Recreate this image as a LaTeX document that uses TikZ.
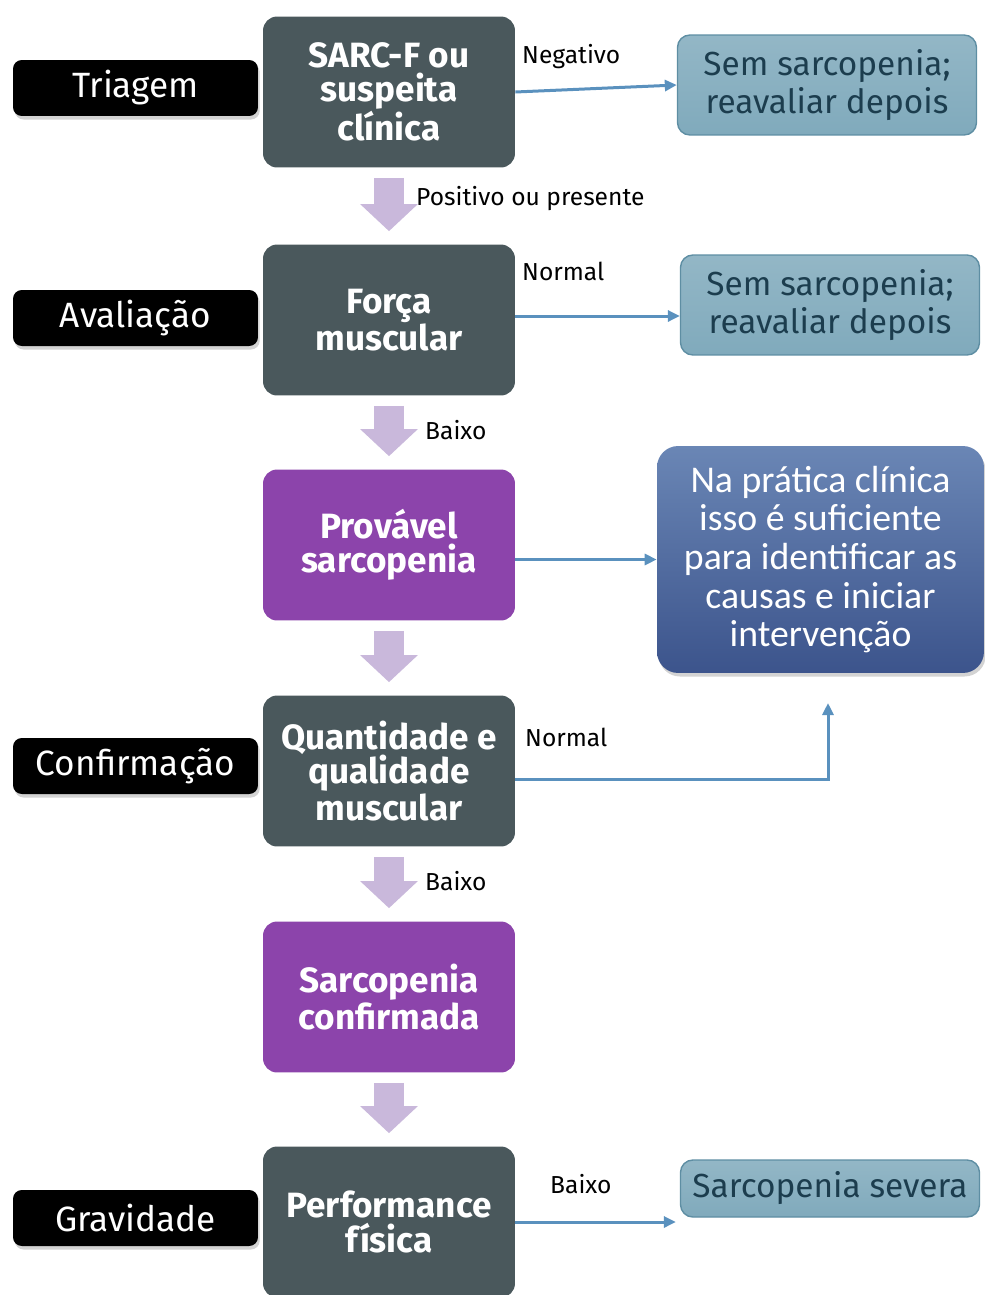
\documentclass[tikz,border=0pt]{standalone}
\usepackage{fontspec}
\setmainfont{Fira Sans}
\newfontfamily\condfont{Carlito}
\usetikzlibrary{arrows.meta,shadows}

\definecolor{boxgray}{HTML}{4A585C}
\definecolor{probpurple}{HTML}{8C44AB}
\definecolor{resfill}{HTML}{80AABC}
\definecolor{resdraw}{HTML}{5E8EA3}
\definecolor{restext}{HTML}{1C3D4E}
\definecolor{bigtop}{HTML}{6A86B5}
\definecolor{bigbottom}{HTML}{3C548C}
\definecolor{linkblue}{HTML}{5A91BE}
\definecolor{lav}{HTML}{C9B8DB}

\begin{document}
\begin{tikzpicture}[x=0.02cm, y=-0.02cm,
  stage/.style={fill=black, rounded corners=5pt, minimum width=4.9cm, minimum height=1.12cm, text=white, font=\fontsize{20}{22}\selectfont, drop shadow={opacity=0.35, shadow xshift=1pt, shadow yshift=-2pt}},
  stepbox/.style={fill=boxgray, rounded corners=8pt, minimum width=5.04cm, minimum height=3.02cm, text=white, align=center, font=\bfseries\fontsize{20}{19.5}\selectfont},
  result/.style={draw=resdraw, line width=0.8pt, top color=resfill!85!white, bottom color=resfill, rounded corners=7pt, minimum width=5.98cm, minimum height=2cm, text=restext, align=center, font=\fontsize{19}{22}\selectfont},
  bigbox/.style={top color=bigtop, bottom color=bigbottom, rounded corners=12pt, minimum width=6.54cm, minimum height=4.54cm, text=white, align=center, font=\condfont\fontsize{21.5}{22}\selectfont, drop shadow={opacity=0.35, shadow xshift=1pt, shadow yshift=-2pt}},
  flow/.style={draw=lav, line width=0.6cm, -{Triangle[length=0.54cm, width=1.12cm]}, shorten <=0.2cm, shorten >=0.26cm},
  link/.style={draw=linkblue, line width=0.06cm, -{Triangle[length=0.24cm, width=0.22cm]}},
  tag/.style={font=\fontsize{14}{16}\selectfont, anchor=west},
]
\useasboundingbox (0,0) rectangle (984,1295);

% stages on the left
\node[stage] (triagem) at (135.5,88) {Triagem};
\node[stage] (avaliacao) at (135.5,318) {Avaliação};
\node[stage] (confirmacao) at (135.5,766) {Confirmação};
\node[stage] (gravidade) at (135.5,1218) {Gravidade};

% main column
\node[stepbox] (sarc) at (389,92) {SARC-F ou\\suspeita\\clínica};
\node[stepbox] (forca) at (389,320) {Força\\muscular};
\node[stepbox, fill=probpurple] (provavel) at (389,545) {Provável\\sarcopenia};
\node[stepbox] (quant) at (389,771) {Quantidade e\\qualidade\\muscular};
\node[stepbox, fill=probpurple] (confirmada) at (389,997) {Sarcopenia\\confirmada};
\node[stepbox] (perf) at (389,1222) {Performance\\física};

% outcomes on the right
\node[result] (sem1) at (827,85) {Sem sarcopenia;\\reavaliar depois};
\node[result] (sem2) at (830,305) {Sem sarcopenia;\\reavaliar depois};
\node[bigbox] (pratica) at (820.5,559.5) {Na prática clínica\\isso é suficiente\\para identificar as\\causas e iniciar\\intervenção};
\node[result, minimum height=1.14cm] (severa) at (830,1188.5) {Sarcopenia severa};

\coordinate (normtip) at (828,703);

\draw[flow] (sarc.south) -- (forca.north);
\draw[flow] (forca.south) -- (provavel.north);
\draw[flow] (provavel.south) -- (quant.north);
\draw[flow] (quant.south) -- (confirmada.north);
\draw[flow] (confirmada.south) -- (perf.north);

\draw[link] (sarc.east) -- (sem1.west);
\draw[link] ([yshift=0.08cm]forca.east) -- ([yshift=0.08cm]forca.east -| sem2.west);
\draw[link] (pratica.west -| provavel.east) -- (pratica.west);
\draw[link] ([yshift=-0.16cm]quant.east) -| (normtip);
\draw[link] (perf.east) -- ([xshift=-0.08cm]perf.east -| severa.west);

% branch labels
\node[tag] (negativo) at (516,57) {Negativo};
\node[tag] (positivo) at (410,199) {Positivo ou presente};
\node[tag] (normal1) at (516,271) {Normal};
\node[tag] (baixo1) at (419,430) {Baixo};
\node[tag] (normal2) at (519,737) {Normal};
\node[tag] (baixo2) at (419,881) {Baixo};
\node[tag] (baixo3) at (544,1184) {Baixo};
\end{tikzpicture}
\end{document}
